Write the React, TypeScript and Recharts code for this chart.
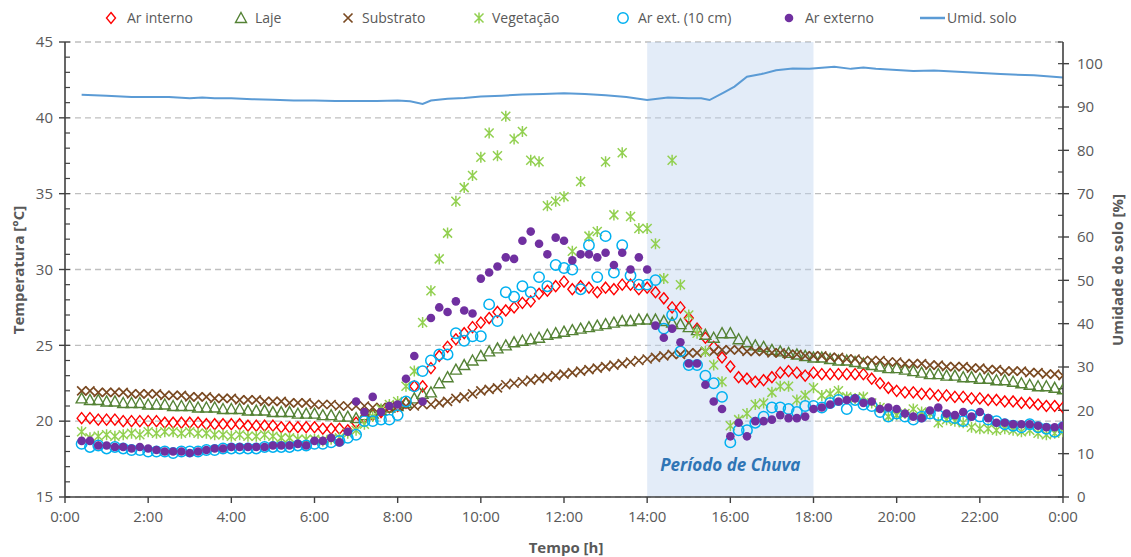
import React from "react";
import {
  ComposedChart,
  Scatter,
  Line,
  XAxis,
  YAxis,
  CartesianGrid,
  ReferenceArea,
} from "recharts";

const FONT = "'Open Sans', 'Noto Sans', sans-serif";
const GRAY = "#595959";
const AXIS = "#404040";

// time of each reading [h] (12 min steps)
const tempo = [
  0.4, 0.6, 0.8,
  1, 1.2, 1.4, 1.6, 1.8,
  2, 2.2, 2.4, 2.6, 2.8,
  3, 3.2, 3.4, 3.6, 3.8,
  4, 4.2, 4.4, 4.6, 4.8,
  5, 5.2, 5.4, 5.6, 5.8,
  6, 6.2, 6.4, 6.6, 6.8,
  7, 7.2, 7.4, 7.6, 7.8,
  8, 8.2, 8.4, 8.6, 8.8,
  9, 9.2, 9.4, 9.6, 9.8,
  10, 10.2, 10.4, 10.6, 10.8,
  11, 11.2, 11.4, 11.6, 11.8,
  12, 12.2, 12.4, 12.6, 12.8,
  13, 13.2, 13.4, 13.6, 13.8,
  14, 14.2, 14.4, 14.6, 14.8,
  15, 15.2, 15.4, 15.6, 15.8,
  16, 16.2, 16.4, 16.6, 16.8,
  17, 17.2, 17.4, 17.6, 17.8,
  18, 18.2, 18.4, 18.6, 18.8,
  19, 19.2, 19.4, 19.6, 19.8,
  20, 20.2, 20.4, 20.6, 20.8,
  21, 21.2, 21.4, 21.6, 21.8,
  22, 22.2, 22.4, 22.6, 22.8,
  23, 23.2, 23.4, 23.6, 23.8,
  24,
];

const arInterno = [
  20.2, 20.2, 20.1,
  20.1, 20.1, 20.0, 20.0, 20.0,
  20.0, 20.0, 19.9, 19.9, 19.9,
  19.9, 19.9, 19.8, 19.8, 19.8,
  19.8, 19.8, 19.7, 19.7, 19.7,
  19.7, 19.6, 19.6, 19.6, 19.6,
  19.6, 19.5, 19.5, 19.5, 19.4,
  19.9, 20.2, 20.4, 20.6, 20.9,
  21.0, 21.2, 22.3, 22.3, 23.5,
  24.3, 24.9, 25.4, 25.8, 26.2,
  26.5, 26.8, 27.2, 27.3, 27.5,
  27.8, 27.9, 28.4, 28.6, 28.9,
  29.2, 28.7, 28.9, 28.8, 28.5,
  28.8, 28.7, 29.0, 29.0, 28.7,
  28.8, 28.5, 28.1, 27.5, 27.5,
  26.8, 26.1, 25.5, 24.9, 24.2,
  23.6, 22.9, 22.8, 22.6, 22.7,
  22.9, 23.2, 23.3, 23.2, 23.0,
  23.2, 23.1, 23.1, 23.1, 23.1,
  23.1, 23.1, 22.8, 22.5, 22.2,
  22.0, 21.9, 21.9, 21.8, 21.8,
  21.7, 21.7, 21.6, 21.6, 21.5,
  21.5, 21.4, 21.4, 21.3, 21.3,
  21.2, 21.2, 21.1, 21.0, 21.0,
  20.9,
];

const laje = [
  21.5, 21.4, 21.4,
  21.3, 21.3, 21.2, 21.2, 21.2,
  21.1, 21.1, 21.1, 21.0, 21.0,
  21.0, 20.9, 20.9, 20.9, 20.8,
  20.8, 20.8, 20.7, 20.7, 20.7,
  20.6, 20.6, 20.6, 20.5, 20.5,
  20.5, 20.4, 20.4, 20.3, 20.3,
  20.2, 20.4, 20.5, 20.7, 20.9,
  21.0, 21.2, 21.5, 21.8, 21.9,
  22.5, 22.9, 23.4, 23.7, 24.0,
  24.3, 24.6, 24.8, 25.0, 25.2,
  25.3, 25.4, 25.5, 25.7, 25.8,
  25.9, 26.0, 26.1, 26.2, 26.3,
  26.4, 26.5, 26.6, 26.6, 26.7,
  26.7, 26.7, 26.6, 26.5, 26.4,
  26.2, 26.0, 25.7, 25.5, 25.8,
  25.8, 25.4, 25.2, 25.0, 24.9,
  24.7, 24.6, 24.5, 24.4, 24.3,
  24.2, 24.2, 24.1, 24.0, 24.0,
  23.9, 23.8, 23.7, 23.6, 23.5,
  23.5, 23.4, 23.3, 23.2, 23.1,
  23.1, 23.0, 23.0, 22.9, 22.9,
  22.8, 22.8, 22.7, 22.7, 22.6,
  22.5, 22.4, 22.3, 22.3, 22.2,
  22.1,
];

const substrato = [
  22.0, 22.0, 21.9,
  21.9, 21.9, 21.9, 21.8, 21.8,
  21.8, 21.8, 21.7, 21.7, 21.7,
  21.6, 21.6, 21.6, 21.5, 21.5,
  21.5, 21.4, 21.4, 21.4, 21.3,
  21.3, 21.3, 21.2, 21.2, 21.2,
  21.1, 21.1, 21.1, 21.0, 21.0,
  21.0, 21.0, 20.9, 20.9, 20.9,
  21.0, 21.0, 21.0, 21.1, 21.1,
  21.2, 21.3, 21.5, 21.6, 21.8,
  22.0, 22.1, 22.2, 22.4, 22.5,
  22.6, 22.7, 22.8, 22.9, 23.0,
  23.1, 23.2, 23.3, 23.4, 23.5,
  23.6, 23.7, 23.8, 23.9, 24.0,
  24.1, 24.2, 24.3, 24.4, 24.4,
  24.5, 24.5, 24.6, 24.6, 24.7,
  24.7, 24.7, 24.6, 24.6, 24.6,
  24.5, 24.5, 24.4, 24.4, 24.3,
  24.3, 24.3, 24.2, 24.2, 24.1,
  24.1, 24.0, 24.0, 24.0, 23.9,
  23.9, 23.8, 23.8, 23.8, 23.7,
  23.7, 23.6, 23.6, 23.6, 23.5,
  23.5, 23.4, 23.4, 23.3, 23.3,
  23.3, 23.2, 23.2, 23.1, 23.1,
  23.0,
];

const vegetacao = [
  19.3, 18.9, 19.0,
  19.1, 19.0, 19.1, 19.2, 19.1,
  19.3, 19.2, 19.3, 19.3, 19.2,
  19.3, 19.2, 19.2, 19.1, 19.1,
  19.0, 19.1, 19.0, 19.0, 19.1,
  19.0, 18.9, 18.9, 18.8, 18.8,
  18.8, 18.7, 18.8, 18.9, 19.2,
  19.4, 19.8, 20.3, 20.8, 21.1,
  21.3, 22.3, 23.3, 26.5, 28.6,
  30.7, 32.4, 34.5, 35.4, 36.2,
  37.4, 39.0, 37.5, 40.1, 38.6,
  39.1, 37.2, 37.1, 34.2, 34.5,
  34.8, 31.2, 35.8, 32.2, 32.5,
  37.1, 33.6, 37.7, 33.5, 32.7,
  32.7, 31.7, 29.4, 37.2, 29.0,
  27.0, 25.8, 24.6, 23.7, 22.6,
  19.7, 20.1, 20.5, 21.1, 21.2,
  21.9, 22.3, 22.3, 21.4, 21.7,
  22.2, 21.7, 21.8, 22.0, 21.6,
  21.5, 21.6, 21.2, 20.9, 20.3,
  20.4, 20.5, 20.8, 20.6, 20.5,
  19.9, 20.1, 20.0, 19.9, 19.6,
  19.5, 19.5, 19.4, 19.5, 19.4,
  19.3, 19.4, 19.2, 19.1, 19.2,
  19.3,
];

const arExt10 = [
  18.5, 18.3, 18.4,
  18.2, 18.3, 18.2, 18.1, 18.1,
  18.0, 18.0, 18.0, 17.9, 18.0,
  18.0, 18.0, 18.1, 18.1, 18.2,
  18.2, 18.2, 18.2, 18.2, 18.3,
  18.3, 18.3, 18.3, 18.4, 18.4,
  18.5, 18.5, 18.6, 18.7, 18.9,
  19.1, 20.0, 20.0, 20.1, 20.1,
  20.4, 21.3, 22.3, 23.3, 24.0,
  24.4, 24.4, 25.8, 25.3, 25.6,
  25.6, 27.7, 26.6, 28.5, 28.2,
  28.9, 28.5, 29.5, 28.9, 30.3,
  30.1, 30.0, 28.7, 31.6, 29.5,
  32.2, 29.8, 31.6, 29.6, 29.0,
  29.0, 29.3, 26.1, 27.0, 24.6,
  23.7, 23.7, 23.0, 22.5, 21.6,
  18.6, 19.4, 19.4, 19.9, 20.3,
  20.9, 20.9, 20.8, 20.6, 21.0,
  21.0, 20.9, 21.2, 21.4, 20.8,
  21.4, 21.1, 21.0, 20.6, 20.3,
  20.5, 20.3, 20.1, 20.3, 20.5,
  20.4, 20.3, 20.2, 20.0, 20.4,
  20.3, 20.1, 20.0, 19.8, 19.7,
  19.6, 19.8, 19.6, 19.5, 19.3,
  19.6,
];

const arExterno = [
  18.7, 18.7, 18.4,
  18.4, 18.3, 18.3, 18.2, 18.3,
  18.2, 18.1, 18.0, 18.0, 18.0,
  17.9, 18.0, 18.1, 18.2, 18.2,
  18.3, 18.3, 18.3, 18.3, 18.3,
  18.4, 18.4, 18.4, 18.5, 18.4,
  18.7, 18.7, 18.9, 18.6, 19.3,
  21.3, 20.6, 21.6, 20.6, 21.0,
  21.1, 22.8, 24.3, 21.3, 26.8,
  27.5, 27.2, 27.9, 27.3, 27.1,
  29.4, 29.8, 30.2, 30.8, 30.7,
  31.9, 32.5, 31.7, 31.0, 32.1,
  31.9, 30.6, 31.0, 31.0, 30.8,
  31.1, 30.3, 31.1, 30.0, 30.8,
  30.0, 26.3, 25.5, 26.1, 25.2,
  23.8, 23.8, 22.4, 21.3, 20.8,
  19.0, 19.9, 19.0, 20.0, 20.0,
  20.1, 20.4, 20.2, 20.2, 20.3,
  20.8, 20.9, 21.1, 21.3, 21.4,
  21.5, 21.2, 21.3, 20.8, 20.9,
  20.8, 20.5, 20.3, 20.2, 20.7,
  20.9, 20.5, 20.4, 20.6, 20.3,
  20.6, 20.2, 19.9, 19.9, 19.8,
  19.8, 19.8, 19.7, 19.6, 19.6,
  19.7,
];

// soil moisture [%]
const umidTempo = [
  0.4, 1.0, 1.6, 2.0, 2.5, 3.0, 3.3, 3.6, 4.0, 4.5, 5.0, 5.5, 6.0, 6.5, 7.0,
  7.5, 8.0, 8.3, 8.6, 8.8, 9.2, 9.6, 10.0, 10.5, 11.0, 11.5, 12.0, 12.5, 13.0,
  13.5, 14.0, 14.5, 15.0, 15.3, 15.5, 15.85, 16.1, 16.4, 16.75, 17.1, 17.5,
  17.9, 18.5, 18.9, 19.2, 19.5, 20.4, 20.9, 21.7, 22.5, 23.3, 24.0,
];
const umidSolo = [
  92.8, 92.6, 92.3, 92.3, 92.3, 92.0, 92.2, 92.0, 92.0, 91.8, 91.7, 91.5, 91.5,
  91.4, 91.4, 91.4, 91.5, 91.3, 90.7, 91.5, 91.9, 92.1, 92.4, 92.6, 92.9, 93.0,
  93.2, 93.0, 92.7, 92.3, 91.6, 92.2, 92.0, 92.0, 91.6, 93.4, 94.7, 97.0, 97.6,
  98.5, 98.9, 98.8, 99.3, 98.8, 99.1, 98.8, 98.3, 98.4, 98.0, 97.6, 97.3, 96.8,
];

const horaTicks = [0, 2, 4, 6, 8, 10, 12, 14, 16, 18, 20, 22, 24];
const tempTicks = [15, 20, 25, 30, 35, 40, 45];
const umidTicks = [0, 10, 20, 30, 40, 50, 60, 70, 80, 90, 100];

// minor tick marks (axis decoration only)
const horaMinor = Array.from({ length: 49 }, (_, i) => i * 0.5);
const tempMinor = Array.from({ length: 31 }, (_, i) => 15 + i);
const umidMinor = Array.from({ length: 22 }, (_, i) => i * 5);

const pts = (vals: number[]) => vals.map((v, i) => ({ t: tempo[i], v }));
const umidData = umidSolo.map((v, i) => ({ t: umidTempo[i], v }));

const fmtHora = (h: number) => `${h % 24}:00`;

// marker shapes
const diamond = (cx: number, cy: number) => (
  <path
    d={`M${cx},${cy - 5.5}L${cx + 4.5},${cy}L${cx},${cy + 5.5}L${cx - 4.5},${cy}Z`}
    fill="none"
    stroke="#ff0000"
    strokeWidth={1.4}
  />
);
const triangle = (cx: number, cy: number) => (
  <path
    d={`M${cx},${cy - 5.5}L${cx + 5.5},${cy + 4.5}L${cx - 5.5},${cy + 4.5}Z`}
    fill="none"
    stroke="#548235"
    strokeWidth={1.4}
  />
);
const cross = (cx: number, cy: number) => (
  <path
    d={`M${cx - 4.5},${cy - 4.5}L${cx + 4.5},${cy + 4.5}M${cx - 4.5},${cy + 4.5}L${cx + 4.5},${cy - 4.5}`}
    stroke="#7a4a22"
    strokeWidth={1.7}
  />
);
const star = (cx: number, cy: number) => (
  <path
    d={`M${cx - 4.5},${cy - 4.5}L${cx + 4.5},${cy + 4.5}M${cx - 4.5},${cy + 4.5}L${cx + 4.5},${cy - 4.5}M${cx},${cy - 5.5}L${cx},${cy + 5.5}`}
    stroke="#92d050"
    strokeWidth={1.5}
  />
);
const ring = (cx: number, cy: number) => (
  <circle cx={cx} cy={cy} r={5.2} fill="none" stroke="#00b0f0" strokeWidth={1.5} />
);
const dot = (cx: number, cy: number) => (
  <circle cx={cx} cy={cy} r={4.3} fill="#7030a0" />
);

const shapeOf = (fn: (cx: number, cy: number) => React.ReactElement) => (p: any) =>
  p.cx == null || p.cy == null ? <g /> : fn(p.cx, p.cy);

const legenda = [
  { nome: "Ar interno", icon: diamond, ix: 111, tx: 127 },
  { nome: "Laje", icon: triangle, ix: 241, tx: 255 },
  { nome: "Substrato", icon: cross, ix: 348, tx: 362 },
  { nome: "Vegetação", icon: star, ix: 479, tx: 492 },
  { nome: "Ar ext. (10 cm)", icon: ring, ix: 623, tx: 638 },
  { nome: "Ar externo", icon: dot, ix: 789, tx: 805 },
];

const tickStyle = { fill: GRAY, fontSize: 15, fontFamily: FONT };

export default function App() {
  return (
    <div
      style={{
        position: "relative",
        width: 1131,
        height: 557,
        background: "#fff",
        fontFamily: FONT,
      }}
    >
      <style>{"body{margin:0}"}</style>
      <ComposedChart
        width={1131}
        height={557}
        margin={{ top: 42, right: 20, bottom: 30, left: 20 }}
      >
        <CartesianGrid
          xAxisId="time"
          yAxisId="temp"
          vertical={false}
          stroke="#bfbfbf"
          strokeDasharray="6 4"
          strokeWidth={1.3}
        />
        <ReferenceArea
          xAxisId="time"
          yAxisId="temp"
          x1={14}
          x2={18}
          fill="#bcd2ee"
          fillOpacity={0.42}
          stroke="none"
          label={{
            value: "Período de Chuva",
            position: "insideBottom",
            offset: 26,
            fill: "#2f75b5",
            fontSize: 17,
            fontStyle: "italic",
            fontWeight: "bold",
            fontFamily: FONT,
          }}
        />
        <XAxis
          xAxisId="time"
          dataKey="t"
          type="number"
          domain={[0, 24]}
          allowDataOverflow
          ticks={horaTicks}
          interval={0}
          tickFormatter={fmtHora}
          height={30}
          tickSize={6}
          tickMargin={8}
          axisLine={{ stroke: AXIS, strokeWidth: 1.6 }}
          tickLine={{ stroke: AXIS, strokeWidth: 1.4 }}
          tick={tickStyle}
        />
        <XAxis
          xAxisId="timeMinor"
          type="number"
          domain={[0, 24]}
          allowDataOverflow
          ticks={horaMinor}
          interval={0}
          mirror
          height={1}
          tickSize={5}
          tickFormatter={() => ""}
          axisLine={false}
          tickLine={{ stroke: AXIS, strokeWidth: 1.2 }}
        />
        <YAxis
          yAxisId="temp"
          dataKey="v"
          type="number"
          domain={[15, 45]}
          allowDataOverflow
          ticks={tempTicks}
          interval={0}
          width={45}
          tickSize={6}
          tickMargin={6}
          axisLine={{ stroke: AXIS, strokeWidth: 1.6 }}
          tickLine={{ stroke: AXIS, strokeWidth: 1.4 }}
          tick={tickStyle}
        />
        <YAxis
          yAxisId="tempMinor"
          type="number"
          domain={[15, 45]}
          allowDataOverflow
          ticks={tempMinor}
          interval={0}
          mirror
          width={1}
          tickSize={5}
          tickFormatter={() => ""}
          axisLine={false}
          tickLine={{ stroke: AXIS, strokeWidth: 1.2 }}
        />
        <YAxis
          yAxisId="hum"
          orientation="right"
          dataKey="v"
          type="number"
          domain={[0, 105]}
          allowDataOverflow
          ticks={umidTicks}
          interval={0}
          width={48}
          tickSize={6}
          tickMargin={8}
          axisLine={{ stroke: AXIS, strokeWidth: 1.6 }}
          tickLine={{ stroke: AXIS, strokeWidth: 1.4 }}
          tick={tickStyle}
        />
        <YAxis
          yAxisId="humMinor"
          orientation="right"
          type="number"
          domain={[0, 105]}
          allowDataOverflow
          ticks={umidMinor}
          interval={0}
          mirror
          width={1}
          tickSize={5}
          tickFormatter={() => ""}
          axisLine={false}
          tickLine={{ stroke: AXIS, strokeWidth: 1.2 }}
        />
        <Scatter name="Ar interno" data={pts(arInterno)} xAxisId="time" yAxisId="temp" dataKey="v" shape={shapeOf(diamond)} isAnimationActive={false} />
        <Scatter name="Laje" data={pts(laje)} xAxisId="time" yAxisId="temp" dataKey="v" shape={shapeOf(triangle)} isAnimationActive={false} />
        <Scatter name="Substrato" data={pts(substrato)} xAxisId="time" yAxisId="temp" dataKey="v" shape={shapeOf(cross)} isAnimationActive={false} />
        <Scatter name="Vegetação" data={pts(vegetacao)} xAxisId="time" yAxisId="temp" dataKey="v" shape={shapeOf(star)} isAnimationActive={false} />
        <Scatter name="Ar ext. (10 cm)" data={pts(arExt10)} xAxisId="time" yAxisId="temp" dataKey="v" shape={shapeOf(ring)} isAnimationActive={false} />
        <Scatter name="Ar externo" data={pts(arExterno)} xAxisId="time" yAxisId="temp" dataKey="v" shape={shapeOf(dot)} isAnimationActive={false} />
        <Line
          name="Umid. solo"
          data={umidData}
          xAxisId="time"
          yAxisId="hum"
          dataKey="v"
          type="linear"
          stroke="#5b9bd5"
          strokeWidth={2}
          dot={false}
          activeDot={false}
          isAnimationActive={false}
        />
      </ComposedChart>

      <svg
        width={1131}
        height={557}
        style={{ position: "absolute", left: 0, top: 0, pointerEvents: "none" }}
      >
        {legenda.map((l) => (
          <g key={l.nome}>
            {l.icon(l.ix, 18)}
            <text x={l.tx} y={23} fill={GRAY} fontSize={14} fontFamily={FONT}>
              {l.nome}
            </text>
          </g>
        ))}
        <line x1={920} y1={18} x2={945} y2={18} stroke="#5b9bd5" strokeWidth={2.5} />
        <text x={947} y={23} fill={GRAY} fontSize={14} fontFamily={FONT}>
          Umid. solo
        </text>

        <text
          transform="translate(18,270) rotate(-90)"
          textAnchor="middle"
          dominantBaseline="central"
          fill={GRAY}
          fontSize={15}
          fontWeight="bold"
          fontFamily={FONT}
        >
          Temperatura [°C]
        </text>
        <text
          transform="translate(1117,270) rotate(-90)"
          textAnchor="middle"
          dominantBaseline="central"
          fill={GRAY}
          fontSize={15}
          fontWeight="bold"
          fontFamily={FONT}
        >
          Umidade do solo [%]
        </text>
        <text
          x={566}
          y={547}
          textAnchor="middle"
          dominantBaseline="central"
          fill={GRAY}
          fontSize={15}
          fontWeight="bold"
          fontFamily={FONT}
        >
          Tempo [h]
        </text>
      </svg>
    </div>
  );
}
